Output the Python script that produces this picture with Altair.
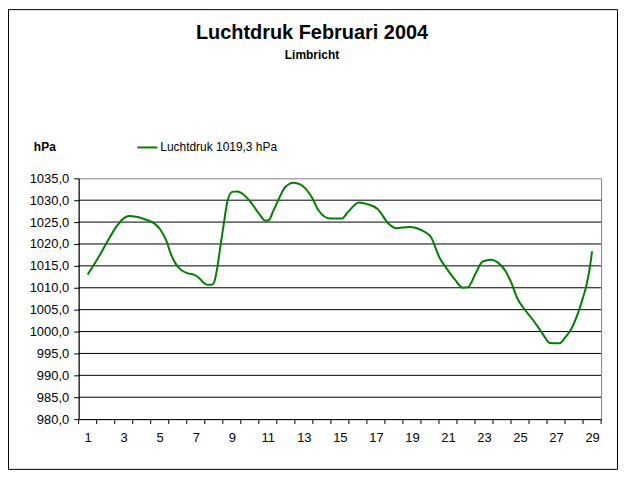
import altair as alt
import pandas as pd

# Day position (fractional day of February 2004) and air pressure in hPa
days = [1.00, 1.55, 2.10, 2.50, 2.90, 3.30, 3.70, 4.20, 4.70, 5.05,
        5.40, 5.60, 5.90, 6.15, 6.55, 6.90, 7.20, 7.45, 7.65, 7.90,
        8.05, 8.20, 8.38, 8.56, 8.75, 9.02, 9.30, 9.65, 10.04, 10.50,
        10.87, 11.05, 11.30, 11.60, 11.97, 12.43, 12.80, 13.08, 13.45, 13.81,
        14.46, 15.10, 15.47, 16.06, 16.53, 17.09, 17.74, 18.12, 18.86, 19.61,
        20.07, 20.54, 20.91, 21.38, 21.84, 22.10, 22.56, 22.93, 23.39, 23.76,
        24.21, 24.49, 24.86, 25.23, 25.78, 26.24, 26.65, 27.20, 27.50, 27.80,
        28.20, 28.50, 28.70, 28.85, 29.00]
pressure = [1013.0, 1016.6, 1020.6, 1023.4, 1025.5, 1026.4, 1026.2, 1025.6, 1024.7, 1023.2,
            1020.4, 1017.9, 1015.4, 1014.2, 1013.3, 1013.0, 1012.2, 1011.1, 1010.7, 1010.7,
            1011.6, 1014.7, 1019.8, 1024.7, 1029.6, 1031.9, 1032.0, 1031.3, 1029.6, 1027.0,
            1025.3, 1025.4, 1027.5, 1030.2, 1033.0, 1034.0, 1033.6, 1032.7, 1030.6, 1027.7,
            1025.8, 1025.8, 1027.4, 1029.5, 1029.1, 1028.0, 1024.5, 1023.6, 1023.9, 1023.0,
            1021.5, 1016.8, 1014.5, 1011.9, 1010.0, 1010.1, 1013.5, 1016.0, 1016.4, 1015.8,
            1013.7, 1011.4, 1007.5, 1005.2, 1002.3, 999.6, 997.4, 997.3, 998.6, 1000.3,
            1004.0, 1007.8, 1010.8, 1014.0, 1018.3]

y_ticks = [980, 985, 990, 995, 1000, 1005, 1010, 1015, 1020, 1025, 1030, 1035]
grid_values = [985, 990, 995, 1000, 1005, 1010, 1015, 1020, 1025, 1030]
x_labels = [1, 3, 5, 7, 9, 11, 13, 15, 17, 19, 21, 23, 25, 27, 29]
x_tick_positions = [i + 0.5 for i in range(0, 30)]

title_text = "Luchtdruk Februari 2004"
subtitle_text = "Limbricht"
unit_text = "hPa"
legend_text = "Luchtdruk 1019,3 hPa"

FONT = "Liberation Sans"
GREEN = "#008000"
W, H = 525, 242

df = pd.DataFrame({"day": days, "p": pressure})
xs = alt.Scale(domain=[0.5, 29.5], nice=False, zero=False)
ys = alt.Scale(domain=[980, 1035], nice=False, zero=False)
one = alt.Data(values=[{"a": 1}])

xaxis = alt.Axis(
    values=x_labels, ticks=False, grid=False, title=None, domainColor="black",
    labelFont=FONT, labelFontSize=13, labelColor="black", labelPadding=12,
    labelFlush=False, labelOverlap=False)
yaxis = alt.Axis(
    values=y_ticks, grid=False, title=None, domainColor="black", tickColor="black",
    tickSize=5, labelFont=FONT, labelFontSize=13, labelColor="black", labelPadding=5,
    labelExpr="replace(format(datum.value, '.1f'), '.', ',')", labelFlush=False,
    labelOverlap=False)

frame = alt.Chart(one).mark_rect(filled=False, stroke="black", strokeWidth=1).encode(
    x=alt.value(-70.5), x2=alt.value(541.5), y=alt.value(-169.5), y2=alt.value(292.5)
)

grid = alt.Chart(pd.DataFrame({"g": grid_values})).mark_rule(color="black", strokeWidth=1).encode(
    y=alt.Y("g:Q", scale=ys, axis=yaxis), x=alt.value(0), x2=alt.value(W)
)

xticks = alt.Chart(pd.DataFrame({"t": x_tick_positions})).mark_rule(color="black", strokeWidth=1).encode(
    x=alt.X("t:Q", scale=xs, axis=xaxis), y=alt.value(H), y2=alt.value(H + 5)
)

line = alt.Chart(df).mark_line(color=GREEN, strokeWidth=2, interpolate="monotone").encode(
    x=alt.X("day:Q", scale=xs, axis=xaxis),
    y=alt.Y("p:Q", scale=ys, axis=yaxis),
)

def txt(s, x, y, size, bold, align="left"):
    return alt.Chart(alt.Data(values=[{"s": s}])).mark_text(
        font=FONT, fontSize=size, fontWeight="bold" if bold else "normal",
        align=align, baseline="middle", color="black"
    ).encode(text="s:N", x=alt.value(x), y=alt.value(y))

title = txt(title_text, 234.5, -146, 20, True, "center")
subtitle = txt(subtitle_text, 234.5, -124, 12, True, "center")
unit = txt(unit_text, -45, -31, 12, True)
leg_text = txt(legend_text, 82, -31, 12, False)
leg_line = alt.Chart(one).mark_rule(color=GREEN, strokeWidth=2).encode(
    x=alt.value(59), x2=alt.value(79), y=alt.value(-31)
)

chart = alt.layer(frame, grid, xticks, line, title, subtitle, unit, leg_line, leg_text).properties(
    width=W, height=H,
    autosize=alt.AutoSizeParams(type="none"),
    padding={"left": 71, "top": 170, "right": 17, "bottom": 51},
    background="white",
).configure_view(stroke="#808080", strokeWidth=1)

chart.save("out.html", embed_options={"renderer": "svg", "actions": False})
